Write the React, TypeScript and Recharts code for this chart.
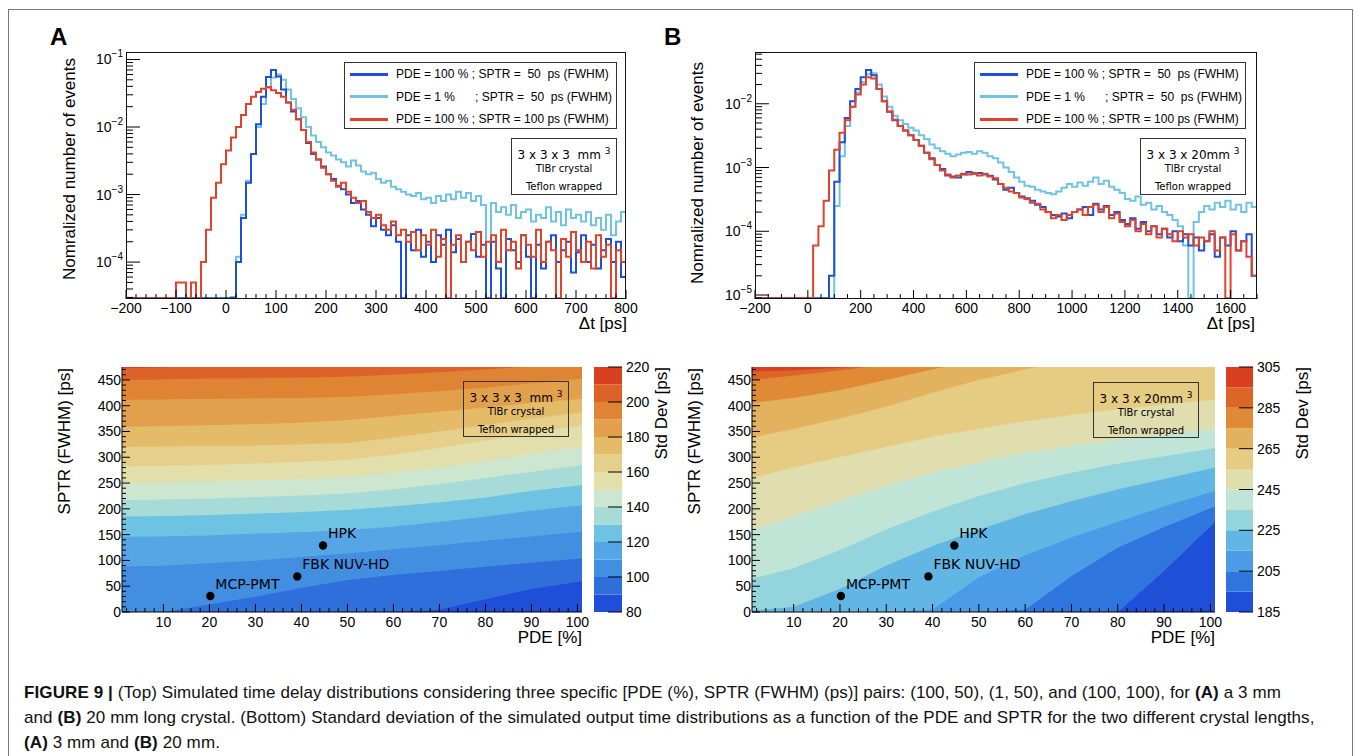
import React from 'react'
import {
  ComposedChart,
  Line,
  Area,
  Scatter,
  XAxis,
  YAxis,
  Legend,
  BarChart,
  Bar
} from 'recharts'

const SANS = '"Liberation Sans", Arial, Helvetica, sans-serif'
const DEJAVU = '"DejaVu Sans", Verdana, sans-serif'

// ---- top row: normalized Δt histograms, bin contents in units of 1e-5 (0 = empty bin)
const binStartA = -200
const binWidthA = 10
const blueA = [
  0, 0, 0, 0, 0, 0, 0, 0, 0, 0,
  0, 0, 0, 0, 0, 0, 0, 0, 0, 0,
  0, 3, 10, 45, 150, 400, 1100, 2800, 5500, 7000,
  5600, 3600, 2300, 1700, 1300, 900, 580, 400, 330, 260,
  200, 170, 135, 120, 100, 75, 80, 60, 50, 34,
  45, 30, 25, 35, 20, 0, 25, 15, 30, 12,
  20, 10, 25, 18, 30, 14, 22, 10, 20, 26,
  12, 18, 0, 20, 8, 0, 22, 15, 10, 25,
  12, 0, 18, 8, 20, 25, 10, 15, 20, 7,
  14, 25, 10, 18, 8, 15, 22, 10, 20, 6
]
const lightA = [
  0, 0, 0, 0, 0, 0, 0, 0, 0, 0,
  0, 0, 0, 0, 0, 0, 0, 0, 0, 0,
  0, 2, 12, 50, 160, 400, 1000, 2200, 3800, 5400,
  6000, 5000, 3600, 2600, 1900, 1400, 1000, 750, 600, 500,
  420, 380, 330, 300, 260, 320, 270, 220, 200, 210,
  170, 150, 160, 130, 120, 110, 100, 95, 105, 85,
  90, 75, 95, 80, 100, 85, 110, 90, 105, 80,
  95, 70, 0, 75, 55, 65, 50, 70, 45, 55,
  60, 40, 50, 45, 65, 40, 55, 35, 60, 45,
  50, 40, 55, 35, 45, 30, 50, 25, 40, 55
]
const redA = [
  0, 0, 0, 0, 0, 0, 0, 0, 0, 0,
  5, 5, 0, 5, 0, 10, 30, 90, 150, 280,
  450, 700, 1000, 1500, 2200, 2800, 3300, 3700, 3900, 3500,
  3200, 2800, 2300, 1800, 1300, 900, 600, 420, 330, 250,
  200, 160, 130, 150, 110, 90, 75, 80, 55, 45,
  50, 35, 30, 40, 25, 30, 20, 28, 15, 25,
  18, 30, 12, 22, 0, 18, 25, 10, 20, 15,
  28, 12, 20, 25, 10, 30, 15, 20, 8, 25,
  18, 12, 30, 10, 20, 15, 0, 22, 12, 28,
  15, 10, 20, 8, 25, 12, 18, 0, 15, 10
]

const binStartB = -200
const binWidthB = 20
const blueB = [
  0, 0, 0, 0, 0, 0, 0, 0, 0, 0,
  0, 0, 0, 0, 2, 60, 250, 600, 1100, 1700,
  2600, 3400, 2800, 1700, 1100, 750, 550, 450, 380, 320,
  270, 220, 170, 140, 110, 95, 75, 72, 70, 78,
  85, 80, 82, 78, 74, 65, 55, 45, 48, 40,
  35, 33, 30, 26, 24, 20, 18, 17, 19, 16,
  20, 22, 24, 18, 27, 22, 25, 18, 20, 15,
  13, 16, 11, 14, 10, 12, 9, 11, 8, 10,
  7, 9, 6, 8, 5, 7, 9, 4, 8, 6,
  10, 5, 7, 9, 2
]
const lightB = [
  0, 0, 0, 0, 0, 0, 0, 0, 0, 0,
  0, 0, 0, 0, 0, 25, 150, 450, 900, 1500,
  2200, 2900, 3000, 2000, 1300, 900, 650, 550, 480, 420,
  380, 320, 280, 230, 200, 180, 165, 150, 160, 170,
  175, 165, 180, 170, 150, 140, 120, 100, 85, 70,
  60, 52, 50, 45, 42, 40, 38, 42, 48, 55,
  50, 58, 52, 60, 70, 55, 62, 50, 45, 40,
  32, 30, 35, 26, 28, 22, 25, 20, 18, 15,
  12, 6, 0, 14, 20, 25, 22, 28, 24, 30,
  22, 26, 20, 28, 24
]
const redB = [
  0, 0, 0, 0, 0, 0, 0, 0, 0, 0,
  0, 6, 12, 30, 90, 190, 350, 550, 900, 1400,
  2000, 2600, 2500, 1700, 1100, 760, 560, 450, 380, 320,
  270, 220, 170, 135, 110, 90, 78, 70, 75, 80,
  78, 82, 75, 80, 72, 68, 55, 48, 42, 40,
  34, 32, 28, 27, 22, 20, 16, 18, 15, 18,
  20, 22, 18, 24, 26, 20, 24, 16, 19, 14,
  12, 15, 10, 13, 9, 12, 8, 11, 9, 7,
  10, 8, 9, 6, 8, 7, 10, 5, 8, 0,
  9, 5, 7, 4, 2
]

const legendLabels = [
  'PDE = 100 % ; SPTR =  50  ps (FWHM)',
  'PDE = 1 %      ; SPTR =  50  ps (FWHM)',
  'PDE = 100 % ; SPTR = 100 ps (FWHM)'
]
const seriesColors = ['#1f4fd9', '#6fc3e3', '#e0432a']
const drawOrder = [1, 0, 2]

const xMajorsA = [-200, -100, 0, 100, 200, 300, 400, 500, 600, 700, 800]
const xMajorsB = [-200, 0, 200, 400, 600, 800, 1000, 1200, 1400, 1600]
const decadesA = [1e-4, 1e-3, 1e-2, 1e-1]
const decadesB = [1e-5, 1e-4, 1e-3, 1e-2]
const decadeExp = ['−5', '−4', '−3', '−2', '−1']
const decadeAll = [1e-5, 1e-4, 1e-3, 1e-2, 1e-1]

// ---- bottom row: Std Dev contour boundaries, SPTR [ps] at each PDE sample
const pdeSamples = [1, 10, 20, 30, 40, 50, 60, 70, 80, 90, 101]

const levelsA = [80, 90, 100, 110, 120, 130, 140, 150, 160, 170, 180, 190, 200, 210, 220]
const colorsA = [
  '#1f4fd8', '#2f6fdb', '#428ee0', '#56a6e5', '#6ec3e3', '#a6dbd8', '#cde6cf',
  '#e2dfab', '#e6cf8a', '#e4bb69', '#e2a04c', '#df8433', '#dc6227', '#d8401f'
]
const boundsA = [
  [0, 0, 0, 0, 0, 0, 0, 5, 25, 45, 60],
  [0, 0, 15, 30, 47, 62, 72, 80, 88, 96, 104],
  [88, 90, 95, 100, 107, 114, 122, 130, 138, 147, 156],
  [146, 147, 149, 152, 155, 159, 166, 175, 185, 197, 207],
  [185, 186, 188, 191, 194, 198, 205, 213, 222, 235, 246],
  [217, 218, 220, 223, 226, 230, 238, 248, 260, 272, 285],
  [250, 251, 253, 255, 258, 262, 270, 280, 292, 306, 322],
  [282, 283, 285, 288, 291, 295, 305, 318, 332, 347, 361],
  [320, 321, 322, 323, 325, 327, 338, 350, 362, 375, 387],
  [359, 360, 362, 364, 367, 372, 380, 388, 396, 405, 413],
  [411, 412, 413, 414, 415, 417, 422, 428, 435, 443, 452],
  [450, 451, 452, 453, 454, 456, 460, 465, 470, 476, 482],
  [472, 474, 477, 480, 484, 490, 495, 500, 505, 510, 515]
]

const levelsB = [185, 195, 205, 215, 225, 235, 245, 255, 265, 275, 285, 295, 305]
const colorsB = [
  '#1f4fd8', '#2e75dd', '#4c9be6', '#62b6e4', '#94d4dc', '#c0e4d6',
  '#e0ddae', '#e6cb82', '#e2b25e', '#e08a36', '#dc6528', '#d8401f'
]
const boundsB = [
  [0, 0, 0, 0, 0, 0, 0, 0, 0, 80, 175],
  [0, 0, 0, 0, 0, 0, 5, 70, 125, 165, 205],
  [0, 0, 0, 0, 5, 68, 110, 145, 175, 205, 235],
  [3, 10, 45, 90, 128, 160, 190, 215, 238, 258, 280],
  [65, 85, 120, 160, 195, 225, 250, 270, 288, 302, 318],
  [160, 185, 215, 245, 270, 290, 308, 322, 334, 343, 355],
  [260, 280, 300, 320, 340, 355, 370, 382, 393, 402, 412],
  [338, 355, 375, 398, 425, 450, 470, 490, 505, 515, 525],
  [405, 415, 430, 450, 470, 490, 510, 525, 540, 550, 560],
  [450, 458, 468, 480, 495, 510, 525, 540, 555, 565, 575],
  [466, 468, 473, 482, 495, 510, 525, 540, 555, 570, 585]
]

const detectorNames = ['MCP-PMT', 'FBK NUV-HD', 'HPK']
const detectorPDE = [20.2, 39.1, 44.7]
const detectorSPTR = [31, 69, 129]

const cbTicksA = [80, 100, 120, 140, 160, 180, 200, 220]
const cbTicksB = [185, 205, 225, 245, 265, 285, 305]

// ---- helpers
const AXIS_W = 50
const AXIS_H = 30

const range = (a: number, b: number, step: number) => {
  const out: number[] = []
  for (let v = a; v <= b + 1e-9; v += step) out.push(Math.round(v * 1000) / 1000)
  return out
}

const logTicks = (min: number, max: number) => {
  const out: number[] = []
  for (let e = Math.floor(Math.log10(min)); e <= Math.ceil(Math.log10(max)); e++) {
    for (let m = 1; m <= 9; m++) {
      const v = Number((m * Math.pow(10, e)).toPrecision(6))
      if (v >= min && v <= max) out.push(v)
    }
  }
  return out
}

const fmtNum = (v: number) => (v < 0 ? '−' + -v : String(v))

// empty bins sit on the bottom of the frame, as ROOT draws them
function histRows(start: number, width: number, series: number[][], floor: number) {
  const n = series[0].length
  const rows: Record<string, number>[] = []
  for (let i = 0; i <= n; i++) {
    const k = Math.min(i, n - 1)
    const row: Record<string, number> = { t: start + i * width }
    series.forEach((s, j) => {
      row['s' + j] = s[k] > 0 ? Math.max(s[k] * 1e-5, floor) : floor
    })
    rows.push(row)
  }
  return rows
}

function bandRows(bounds: number[][]) {
  return pdeSamples.map((pde, i) => {
    const row: Record<string, number> = { pde }
    let prev = 0
    bounds.forEach((b, k) => {
      const v = Math.max(prev, b[i])
      row['b' + k] = v - prev
      prev = v
    })
    row['b' + bounds.length] = 600 - prev
    return row
  })
}

const axisTitle = (x: number, y: number, text: string, vertical: boolean) => ({
  content: () => (
    <text
      x={x}
      y={y}
      textAnchor="end"
      dominantBaseline="central"
      fontFamily={SANS}
      fontSize={17}
      fill="#000"
      transform={vertical ? `rotate(-90 ${x} ${y})` : undefined}
    >
      {text}
    </text>
  )
})

const makeXTick = (majors: number[], majorLen: number, minorLen: number, labelDy: number) =>
  (p: any) => {
    const isMajor = majors.includes(p.payload.value)
    return (
      <g>
        <line x1={p.x} x2={p.x} y1={p.y} y2={p.y - (isMajor ? majorLen : minorLen)} stroke="#000" />
        {isMajor && (
          <text x={p.x} y={p.y + labelDy} textAnchor="middle" fontFamily={SANS} fontSize={14} fill="#000">
            {fmtNum(p.payload.value)}
          </text>
        )}
      </g>
    )
  }

const makeLogTick = (decades: number[]) => (p: any) => {
  const v = p.payload.value
  const isMajor = decades.some(d => Math.abs(v / d - 1) < 1e-6)
  const exp = isMajor ? decadeExp[decadeAll.findIndex(d => Math.abs(v / d - 1) < 1e-6)] : ''
  return (
    <g>
      <line x1={p.x} x2={p.x + (isMajor ? 14 : 7)} y1={p.y} y2={p.y} stroke="#000" />
      {isMajor && (
        <text x={p.x - 3} y={p.y + 5} textAnchor="end" fontFamily={SANS} fontSize={14} fill="#000">
          10
          <tspan dy={-7} fontSize={10}>
            {exp}
          </tspan>
        </text>
      )}
    </g>
  )
}

const makeLinTick = (majors: number[]) => (p: any) => {
  const isMajor = majors.includes(p.payload.value)
  return (
    <g>
      <line x1={p.x} x2={p.x + (isMajor ? 8 : 4)} y1={p.y} y2={p.y} stroke="#000" />
      {isMajor && (
        <text x={p.x - 1} y={p.y + 5} textAnchor="end" fontFamily={SANS} fontSize={14} fill="#000">
          {p.payload.value}
        </text>
      )}
    </g>
  )
}

type Rect = { x: number; y: number; w: number; h: number }

function InfoBox({ box, size, filled }: { box: Rect; size: string; filled: boolean }) {
  return (
    <div
      style={{
        position: 'absolute',
        left: box.x,
        top: box.y,
        width: box.w,
        height: box.h,
        boxSizing: 'border-box',
        border: '1px solid #333',
        background: filled ? '#fff' : 'transparent',
        fontFamily: DEJAVU,
        color: '#000',
        textAlign: 'center'
      }}
    >
      <div style={{ position: 'absolute', left: 0, right: 0, top: 3, height: 18, lineHeight: '18px', fontSize: 12, whiteSpace: 'pre' }}>
        {size}
        <span style={{ fontSize: 9, verticalAlign: 5 }}>3</span>
      </div>
      <div style={{ position: 'absolute', left: 0, right: 0, top: 22, height: 16, lineHeight: '16px', fontSize: 10 }}>
        TlBr crystal
      </div>
      <div style={{ position: 'absolute', left: 0, right: 0, top: 40, height: 16, lineHeight: '16px', fontSize: 10 }}>
        Teflon wrapped
      </div>
    </div>
  )
}

function LegendBox({ box }: { box: Rect }) {
  return (
    <div
      style={{
        position: 'relative',
        width: box.w,
        height: box.h,
        boxSizing: 'border-box',
        border: '1px solid #333',
        background: '#fff',
        fontFamily: SANS,
        fontSize: 12,
        color: '#000'
      }}
    >
      {legendLabels.map((label, i) => (
        <div
          key={label}
          style={{ position: 'absolute', left: 0, top: i * 22.5, height: 22, width: '100%', display: 'flex', alignItems: 'center' }}
        >
          <div style={{ marginLeft: 5, width: 38, height: 3, background: seriesColors[i] }} />
          <span style={{ marginLeft: 8, whiteSpace: 'pre' }}>{label}</span>
        </div>
      ))}
    </div>
  )
}

interface HistProps {
  left: number
  width: number
  plot: Rect
  series: number[][]
  binStart: number
  binWidth: number
  xDomain: [number, number]
  xMinor: number
  xMajors: number[]
  yDomain: [number, number]
  decades: number[]
  legend: Rect
  info: Rect
  size: string
  yTitle: [number, number]
  xTitle: [number, number]
}

function HistPanel(p: HistProps) {
  const height = 340
  const rows = histRows(p.binStart, p.binWidth, p.series, p.yDomain[0] * 1.03)
  const xTicks = range(p.xDomain[0], p.xDomain[1], p.xMinor)
  const yTicks = logTicks(p.yDomain[0], p.yDomain[1])
  return (
    <div style={{ position: 'absolute', left: p.left, top: 0, width: p.width, height }}>
      <ComposedChart
        width={p.width}
        height={height}
        data={rows}
        margin={{
          top: p.plot.y,
          left: p.plot.x - AXIS_W,
          right: p.width - p.plot.x - p.plot.w,
          bottom: height - p.plot.y - p.plot.h - AXIS_H
        }}
      >
        <XAxis
          type="number"
          dataKey="t"
          domain={p.xDomain}
          allowDataOverflow
          ticks={xTicks}
          interval={0}
          height={AXIS_H}
          tickSize={0}
          tickMargin={0}
          tickLine={false}
          axisLine={false}
          tick={makeXTick(p.xMajors, 9, 5, 14)}
          label={axisTitle(p.xTitle[0], p.xTitle[1], 'Δt [ps]', false)}
        />
        <YAxis
          type="number"
          scale="log"
          domain={p.yDomain}
          allowDataOverflow
          ticks={yTicks}
          interval={0}
          width={AXIS_W}
          tickSize={0}
          tickMargin={0}
          tickLine={false}
          axisLine={false}
          tick={makeLogTick(p.decades)}
          label={axisTitle(p.yTitle[0], p.yTitle[1], 'Nomralized number of events', true)}
        />
        {drawOrder.map(j => (
          <Line
            key={j}
            dataKey={'s' + j}
            type="stepAfter"
            stroke={seriesColors[j]}
            strokeWidth={2}
            dot={false}
            activeDot={false}
            isAnimationActive={false}
          />
        ))}
        <Legend
          layout="horizontal"
          verticalAlign="middle"
          align="center"
          wrapperStyle={{ left: p.legend.x, top: p.legend.y, width: p.legend.w, height: p.legend.h }}
          content={() => <LegendBox box={p.legend} />}
        />
      </ComposedChart>
      <div
        style={{
          position: 'absolute',
          left: p.plot.x,
          top: p.plot.y,
          width: p.plot.w,
          height: p.plot.h,
          boxSizing: 'border-box',
          border: '1px solid #111',
          pointerEvents: 'none'
        }}
      />
      <InfoBox box={p.info} size={p.size} filled />
    </div>
  )
}

const pointShape = (props: any) => {
  const { cx, cy, payload } = props
  return (
    <g>
      <circle cx={cx} cy={cy} r={4.2} fill="#000" />
      <text x={cx + 5} y={cy - 12} dominantBaseline="central" fontFamily={DEJAVU} fontSize={14} fill="#000">
        {payload.name}
      </text>
    </g>
  )
}

interface HeatProps {
  left: number
  width: number
  plot: Rect
  bounds: number[][]
  colors: string[]
  info: Rect
  size: string
  yTitle: [number, number]
  xTitle: [number, number]
}

function HeatPanel(p: HeatProps) {
  const top = 340
  const height = 310
  const rows = bandRows(p.bounds)
  const points = detectorNames.map((name, i) => ({ name, pde: detectorPDE[i], sptr: detectorSPTR[i] }))
  return (
    <div style={{ position: 'absolute', left: p.left, top, width: p.width, height }}>
      <ComposedChart
        width={p.width}
        height={height}
        data={rows}
        margin={{
          top: p.plot.y,
          left: p.plot.x - AXIS_W,
          right: p.width - p.plot.x - p.plot.w,
          bottom: height - p.plot.y - p.plot.h - AXIS_H
        }}
      >
        <XAxis
          type="number"
          dataKey="pde"
          domain={[1, 101]}
          allowDataOverflow
          ticks={range(2, 100, 2)}
          interval={0}
          height={AXIS_H}
          tickSize={0}
          tickMargin={0}
          tickLine={false}
          axisLine={{ stroke: '#000' }}
          tick={makeXTick(range(10, 100, 10), 8, 4, 15)}
          label={axisTitle(p.xTitle[0], p.xTitle[1], 'PDE [%]', false)}
        />
        <YAxis
          type="number"
          domain={[0, 475]}
          allowDataOverflow
          ticks={range(0, 470, 10)}
          interval={0}
          width={AXIS_W}
          tickSize={0}
          tickMargin={0}
          tickLine={false}
          axisLine={{ stroke: '#000' }}
          tick={makeLinTick(range(0, 450, 50))}
          label={axisTitle(p.yTitle[0], p.yTitle[1], 'SPTR (FWHM) [ps]', true)}
        />
        {p.colors.map((c, k) => (
          <Area
            key={k}
            dataKey={'b' + k}
            stackId="std"
            type="linear"
            fill={c}
            fillOpacity={1}
            stroke={c}
            strokeWidth={1}
            dot={false}
            activeDot={false}
            isAnimationActive={false}
          />
        ))}
        <Scatter data={points} dataKey="sptr" shape={pointShape} isAnimationActive={false} />
      </ComposedChart>
      <InfoBox box={p.info} size={p.size} filled={false} />
    </div>
  )
}

interface BarProps {
  left: number
  width: number
  barW: number
  levels: number[]
  colors: string[]
  ticks: number[]
  title: [number, number]
}

function ColorBar(p: BarProps) {
  const height = 310
  const row: Record<string, number | string> = { name: 'z', base: p.levels[0] }
  p.colors.forEach((_, k) => {
    row['c' + k] = p.levels[k + 1] - p.levels[k]
  })
  const tick = (t: any) => (
    <g>
      <line x1={t.x} x2={t.x - 14} y1={t.y} y2={t.y} stroke="#000" />
      <text x={t.x + 4} y={t.y + 5} fontFamily={SANS} fontSize={14} fill="#000">
        {t.payload.value}
      </text>
    </g>
  )
  return (
    <div style={{ position: 'absolute', left: p.left, top: 340, width: p.width, height }}>
      <BarChart
        width={p.width}
        height={height}
        data={[row]}
        barCategoryGap={0}
        barGap={0}
        margin={{ top: 27, left: 0, right: p.width - p.barW - AXIS_W, bottom: 38 }}
      >
        <XAxis dataKey="name" hide />
        <YAxis
          orientation="right"
          type="number"
          domain={[p.levels[0], p.levels[p.levels.length - 1]]}
          allowDataOverflow
          ticks={p.ticks}
          interval={0}
          width={AXIS_W}
          tickSize={0}
          tickMargin={0}
          tickLine={false}
          axisLine={false}
          tick={tick}
          label={axisTitle(p.title[0], p.title[1], 'Std Dev [ps]', true)}
        />
        <Bar dataKey="base" stackId="z" fill="transparent" isAnimationActive={false} />
        {p.colors.map((c, k) => (
          <Bar key={k} dataKey={'c' + k} stackId="z" fill={c} isAnimationActive={false} />
        ))}
      </BarChart>
    </div>
  )
}

export default function App() {
  return (
    <div
      style={{
        position: 'absolute',
        left: 0,
        top: 0,
        width: 1354,
        height: 756,
        background: '#fff',
        overflow: 'hidden',
        fontFamily: SANS
      }}
    >
      <div
        style={{
          position: 'absolute',
          left: 8,
          top: 9,
          width: 1345,
          height: 800,
          boxSizing: 'border-box',
          border: '1px solid #777'
        }}
      />
      <div style={{ position: 'absolute', left: 50, top: 25, fontSize: 24, lineHeight: '24px', fontWeight: 'bold' }}>A</div>
      <div style={{ position: 'absolute', left: 664, top: 25, fontSize: 24, lineHeight: '24px', fontWeight: 'bold' }}>B</div>

      <HistPanel
        left={0}
        width={677}
        plot={{ x: 126, y: 52, w: 500, h: 247 }}
        series={[blueA, lightA, redA]}
        binStart={binStartA}
        binWidth={binWidthA}
        xDomain={[-200, 800]}
        xMinor={20}
        xMajors={xMajorsA}
        yDomain={[2.84e-5, 0.129]}
        decades={decadesA}
        legend={{ x: 344, y: 62, w: 273, h: 67 }}
        info={{ x: 511, y: 138, w: 106, h: 57 }}
        size={'3 x 3 x 3  mm '}
        yTitle={[69, 58]}
        xTitle={[627, 323]}
      />
      <HistPanel
        left={677}
        width={677}
        plot={{ x: 78, y: 52, w: 502, h: 247 }}
        series={[blueB, lightB, redB]}
        binStart={binStartB}
        binWidth={binWidthB}
        xDomain={[-200, 1700]}
        xMinor={50}
        xMajors={xMajorsB}
        yDomain={[8.66e-6, 0.0649]}
        decades={decadesB}
        legend={{ x: 297, y: 62, w: 272, h: 67 }}
        info={{ x: 463, y: 138, w: 106, h: 57 }}
        size={'3 x 3 x 20mm '}
        yTitle={[20, 62]}
        xTitle={[578, 323]}
      />

      <HeatPanel
        left={0}
        width={590}
        plot={{ x: 122, y: 27, w: 460, h: 245 }}
        bounds={boundsA}
        colors={colorsA}
        info={{ x: 463, y: 41, w: 106, h: 56 }}
        size={'3 x 3 x 3  mm '}
        yTitle={[64, 28]}
        xTitle={[582, 297]}
      />
      <ColorBar left={594} width={110} barW={28} levels={levelsA} colors={colorsA} ticks={cbTicksA} title={[67, 27]} />

      <HeatPanel
        left={677}
        width={545}
        plot={{ x: 75, y: 27, w: 463, h: 245 }}
        bounds={boundsB}
        colors={colorsB}
        info={{ x: 416, y: 42, w: 106, h: 56 }}
        size={'3 x 3 x 20mm '}
        yTitle={[17, 28]}
        xTitle={[538, 297]}
      />
      <ColorBar left={1226} width={128} barW={27} levels={levelsB} colors={colorsB} ticks={cbTicksB} title={[76, 27]} />

      <div
        style={{
          position: 'absolute',
          left: 24,
          top: 680,
          width: 1325,
          fontSize: 17,
          letterSpacing: '0.1px',
          lineHeight: '25px',
          color: '#111',
          whiteSpace: 'nowrap'
        }}
      >
        <b>FIGURE 9 |</b> (Top) Simulated time delay distributions considering three specific [PDE (%), SPTR (FWHM) (ps)] pairs: (100, 50), (1, 50), and (100, 100), for <b>(A)</b> a 3 mm
        <br />
        and <b>(B)</b> 20 mm long crystal. (Bottom) Standard deviation of the simulated output time distributions as a function of the PDE and SPTR for the two different crystal lengths,
        <br />
        <b>(A)</b> 3 mm and <b>(B)</b> 20 mm.
      </div>
    </div>
  )
}
